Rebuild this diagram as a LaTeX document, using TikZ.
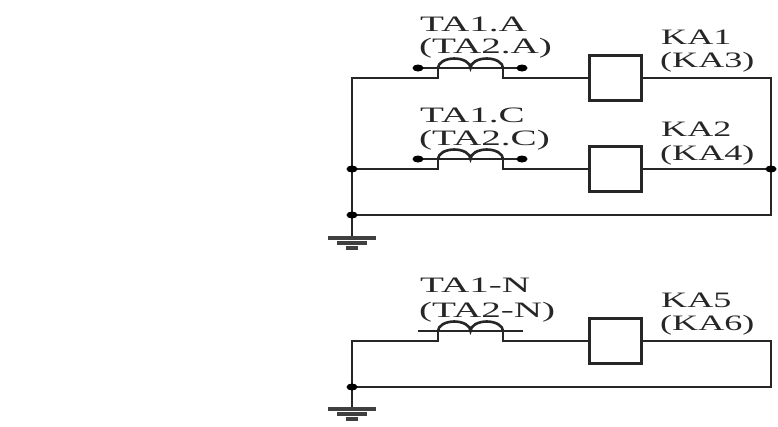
\documentclass[tikz,border=0pt]{standalone}
\usepackage{fontspec}
\usetikzlibrary{shapes.geometric}
\setmainfont[FakeStretch=1.78]{Liberation Serif}
\newfontfamily\kafont[FakeStretch=1.64]{Liberation Serif}
\begin{document}
\begin{tikzpicture}[x=1pt,y=-1pt,
  wire/.style={line width=2.6pt,black!85,line join=miter},
  thin wire/.style={line width=1.8pt,black!85},
  gnd/.style={line width=3.4pt,black!75},
  relay/.style={draw=black!85,line width=2.05pt,minimum width=52pt,minimum height=45pt,inner sep=0pt,fill=white},
  lbl/.style={anchor=base west,inner sep=0pt,font=\fontsize{22pt}{22pt}\selectfont,text=black!85},
  kalbl/.style={lbl,font=\fontsize{22pt}{22pt}\selectfont\kafont},
  dot/.style={ellipse,fill=black,inner sep=0pt,minimum width=11pt,minimum height=7pt}]
\useasboundingbox (0,0) rectangle (778,426);
\fill[white] (0,0) rectangle (778,426);
% --- row A
\node[relay] (ka1) at (615.5,78) {};
\coordinate (a1) at (438,68);\coordinate (a2) at (503,68);
\coordinate (a0) at (352,78);\coordinate (ar) at (771,78);
\coordinate (a1b) at (438,78);\coordinate (a2b) at (503,78);
% --- row C
\node[relay] (ka2) at (615.5,169) {};
\coordinate (c1) at (438,159);\coordinate (c2) at (503,159);
\coordinate (c1b) at (438,169);\coordinate (c2b) at (503,169);
\coordinate (cl) at (352,169);\coordinate (cr) at (771,169);
\coordinate (bl) at (352,215);\coordinate (br) at (771,215);
\coordinate (g1) at (352,238);
% --- row N
\node[relay] (ka5) at (615.5,341) {};
\coordinate (n1) at (438,331);\coordinate (n2) at (503,331);
\coordinate (n1b) at (438,341);\coordinate (n2b) at (503,341);
\coordinate (nl) at (352,341);\coordinate (nr) at (771,341);
\coordinate (ml) at (352,387);\coordinate (mr) at (771,387);
\coordinate (g2) at (352,409);
% wires
\draw[wire] (a1) -- (a1b) -- (a0) -- (g1);
\draw[wire] (a2) -- (a2b) -- (ka1.west);
\draw[wire] (ka1.east) -- (ar) -- (br) -- (bl);
\draw[wire] (cl) -- (c1b) -- (c1);
\draw[wire] (c2) -- (c2b) -- (ka2.west);
\draw[wire] (ka2.east) -- (cr);
\draw[wire] (n1) -- (n1b) -- (nl) -- (g2);
\draw[wire] (n2) -- (n2b) -- (ka5.west);
\draw[wire] (ka5.east) -- (nr) -- (mr) -- (ml);
% coils
\foreach \p/\l/\r/\m in {a1/418/522/68, c1/418/522/159, n1/418/523/331}{
  \draw[thin wire] (\l,\m) -- (\r,\m);
  \draw[wire] (\p) arc[start angle=180,end angle=360,x radius=16.25,y radius=9.5]
              arc[start angle=180,end angle=360,x radius=16.25,y radius=9.5];
}
% dots
\node[dot] (da1) at (418,68) {};
\node[dot] (da2) at (522,68) {};
\node[dot] (dc1) at (418,159) {};
\node[dot] (dc2) at (522,159) {};
\node[dot] (j1) at (cl) {};
\node[dot] (j2) at (cr) {};
\node[dot] (j3) at (bl) {};
\node[dot] (j4) at (ml) {};
% grounds
\foreach \g in {g1,g2}{
  \draw[gnd] ([xshift=-24pt]\g) -- ([xshift=24pt]\g);
  \draw[gnd] ([xshift=-15pt,yshift=-5pt]\g) -- ([xshift=15pt,yshift=-5pt]\g);
  \draw[gnd] ([xshift=-6pt,yshift=-10pt]\g) -- ([xshift=6pt,yshift=-10pt]\g);
}
% labels
\node[lbl] (t1) at (420,31) {TA1.A};
\node[lbl] (t2) at (419,53) {(TA2.A)};
\node[lbl] (t3) at (420,122) {TA1.C};
\node[lbl] (t4) at (419,145) {(TA2.C)};
\node[lbl] (t5) at (420,292) {TA1-N};
\node[lbl] (t6) at (419,317) {(TA2-N)};
\node[kalbl] (k1) at (661,44) {KA1};
\node[kalbl] (k2) at (660,67) {(KA3)};
\node[kalbl] (k3) at (661,136) {KA2};
\node[kalbl] (k4) at (660,160) {(KA4)};
\node[kalbl] (k5) at (661,307) {KA5};
\node[kalbl] (k6) at (660,330) {(KA6)};
\end{tikzpicture}
\end{document}
